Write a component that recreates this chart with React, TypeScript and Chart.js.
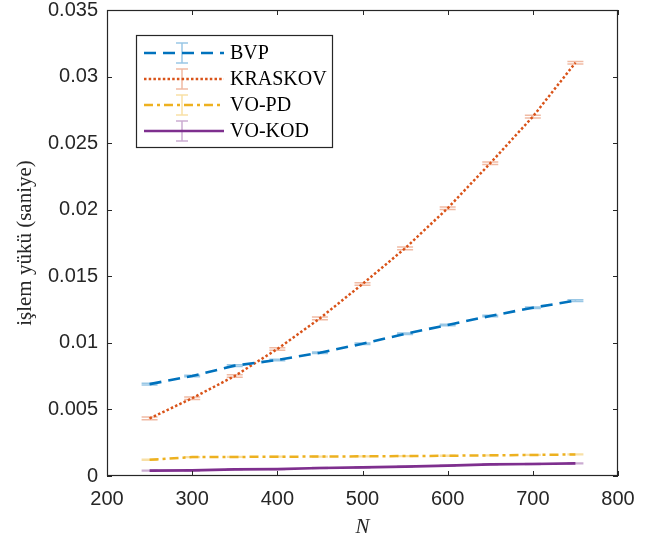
import { useEffect, useRef } from "react";
import { Chart, registerables } from "chart.js";
Chart.register(...registerables);

const N = [250, 300, 350, 400, 450, 500, 550, 600, 650, 700, 750];
const bvp = [0.0069, 0.00751, 0.00829, 0.00871, 0.00926, 0.00993, 0.01068, 0.01134, 0.01202, 0.01264, 0.01317];
const kraskov = [0.00433, 0.00584, 0.00751, 0.00954, 0.01184, 0.01442, 0.0171, 0.02011, 0.02349, 0.02699, 0.03104];
const voPd = [0.00122, 0.00142, 0.00143, 0.00145, 0.00146, 0.00148, 0.0015, 0.00152, 0.00155, 0.00158, 0.00162];
const voKod = [0.0004, 0.00042, 0.0005, 0.00052, 0.0006, 0.00065, 0.0007, 0.00078, 0.00088, 0.0009, 0.00095];
const seriesNames = ["BVP", "KRASKOV", "VO-PD", "VO-KOD"];
const seriesErr = [0.00006, 0.0001, 0.00003, 0.00003];
const xTicks = [200, 300, 400, 500, 600, 700, 800];
const yTicks = [0, 0.005, 0.01, 0.015, 0.02, 0.025, 0.03, 0.035];
const yTickLabels = ["0", "0.005", "0.01", "0.015", "0.02", "0.025", "0.03", "0.035"];

const colors = ["#0072BD", "#D95319", "#EDB120", "#7E2F8E"];
const lightColors = ["rgba(0,114,189,0.4)", "rgba(217,83,25,0.4)", "rgba(237,177,32,0.4)", "rgba(126,47,142,0.4)"];
const dashes: number[][] = [[12, 7], [2.5, 2.2], [9, 4, 3, 4], []];
const widths = [2.6, 2.5, 2.5, 2.7];
const AX = "#262626";

const errorCaps = {
  id: "errorCaps",
  beforeDatasetsDraw(chart: any) {
    const ctx = chart.ctx;
    const ys = chart.scales.y;
    ctx.save();
    chart.data.datasets.forEach((ds: any, i: number) => {
      const meta = chart.getDatasetMeta(i);
      ctx.strokeStyle = lightColors[i];
      ctx.lineWidth = 1.5;
      ctx.setLineDash([]);
      meta.data.forEach((pt: any, j: number) => {
        const v = ds.data[j].y;
        const yt = ys.getPixelForValue(v + seriesErr[i]);
        const yb = ys.getPixelForValue(v - seriesErr[i]);
        ctx.beginPath();
        ctx.moveTo(pt.x - 8, yt);
        ctx.lineTo(pt.x + 8, yt);
        ctx.moveTo(pt.x - 8, yb);
        ctx.lineTo(pt.x + 8, yb);
        ctx.moveTo(pt.x, yt);
        ctx.lineTo(pt.x, yb);
        ctx.stroke();
      });
    });
    ctx.restore();
  },
};

const frame = {
  id: "frame",
  afterDraw(chart: any) {
    const ctx = chart.ctx;
    const { left, right, top, bottom } = chart.chartArea;
    const xs = chart.scales.x;
    const ys = chart.scales.y;
    ctx.save();
    ctx.strokeStyle = AX;
    ctx.lineWidth = 1.2;
    ctx.setLineDash([]);
    ctx.strokeRect(left + 0.5, top + 0.5, right - left - 1, bottom - top - 1);
    ctx.lineWidth = 1;
    ctx.beginPath();
    xTicks.forEach((t) => {
      const x = Math.round(xs.getPixelForValue(t)) + 0.5;
      ctx.moveTo(x, bottom);
      ctx.lineTo(x, bottom - 5);
      ctx.moveTo(x, top);
      ctx.lineTo(x, top + 5);
    });
    yTicks.forEach((t) => {
      const y = Math.round(ys.getPixelForValue(t)) + 0.5;
      ctx.moveTo(left, y);
      ctx.lineTo(left + 5, y);
      ctx.moveTo(right, y);
      ctx.lineTo(right - 5, y);
    });
    ctx.stroke();

    // legend
    const bx = 136.5, by = 35.5, bw = 196, bh = 112;
    ctx.fillStyle = "#ffffff";
    ctx.fillRect(bx, by, bw, bh);
    ctx.strokeStyle = AX;
    ctx.lineWidth = 1.2;
    ctx.strokeRect(bx, by, bw, bh);
    const rows = [53, 79, 105, 131];
    seriesNames.forEach((name, i) => {
      const y = rows[i];
      ctx.strokeStyle = colors[i];
      ctx.lineWidth = widths[i];
      ctx.setLineDash(dashes[i]);
      ctx.beginPath();
      ctx.moveTo(144, y);
      ctx.lineTo(224, y);
      ctx.stroke();
      ctx.setLineDash([]);
      ctx.strokeStyle = lightColors[i];
      ctx.lineWidth = 1.5;
      ctx.beginPath();
      ctx.moveTo(182, y - 10);
      ctx.lineTo(182, y + 10);
      ctx.moveTo(176, y - 10);
      ctx.lineTo(188, y - 10);
      ctx.moveTo(176, y + 10);
      ctx.lineTo(188, y + 10);
      ctx.stroke();
      ctx.fillStyle = "#000000";
      ctx.font = "20px 'Liberation Serif'";
      ctx.textAlign = "left";
      ctx.textBaseline = "middle";
      ctx.fillText(name, 230, y + 1);
    });
    ctx.restore();
  },
};

export default function App() {
  const ref = useRef<HTMLCanvasElement>(null);
  useEffect(() => {
    if (!ref.current) return;
    const all = [bvp, kraskov, voPd, voKod];
    const chart = new Chart(ref.current, {
      type: "line",
      data: {
        datasets: all.map((arr, i) => ({
          label: seriesNames[i],
          data: N.map((n, j) => ({ x: n, y: arr[j] })),
          borderColor: colors[i],
          borderWidth: widths[i],
          borderDash: dashes[i],
          borderCapStyle: "butt" as const,
          pointRadius: 0,
          tension: 0,
          fill: false,
        })),
      },
      options: {
        animation: false,
        responsive: false,
        devicePixelRatio: 1,
        layout: { padding: { top: 10, right: 31, left: 0, bottom: 0 } },
        plugins: { legend: { display: false }, tooltip: { enabled: false } },
        scales: {
          x: {
            type: "linear",
            min: 200,
            max: 800,
            afterBuildTicks: (s: any) => { s.ticks = xTicks.map((v) => ({ value: v })); },
            afterFit: (s: any) => { s.height = 64; s.paddingLeft = 0; s.paddingRight = 0; },
            grid: { display: false, drawTicks: false },
            border: { display: false },
            ticks: {
              padding: 11,
              color: AX,
              font: { family: "'Liberation Sans'", size: 20 },
              maxRotation: 0,
              callback: (v: any) => String(v),
            },
            title: {
              display: true,
              text: "N",
              color: AX,
              padding: { top: 0, bottom: 0 },
              font: { family: "'Liberation Serif'", size: 21, style: "italic" },
            },
          },
          y: {
            type: "linear",
            min: 0,
            max: 0.035,
            afterBuildTicks: (s: any) => { s.ticks = yTicks.map((v) => ({ value: v })); },
            afterFit: (s: any) => { s.width = 107; s.paddingTop = 0; s.paddingBottom = 0; },
            grid: { display: false, drawTicks: false },
            border: { display: false },
            ticks: {
              padding: 9,
              color: AX,
              font: { family: "'Liberation Sans'", size: 20 },
              callback: (_v: any, idx: number) => yTickLabels[idx],
            },
            title: {
              display: true,
              text: "işlem yükü (saniye)",
              color: AX,
              padding: { top: 13, bottom: 0 },
              font: { family: "'Liberation Serif'", size: 21 },
            },
          },
        },
      },
      plugins: [errorCaps, frame],
    });
    return () => chart.destroy();
  }, []);
  return (
    <div style={{ position: "fixed", left: 0, top: 0, width: 649, height: 540, background: "#fff" }}>
      <canvas ref={ref} width={649} height={540} style={{ display: "block" }} />
    </div>
  );
}
